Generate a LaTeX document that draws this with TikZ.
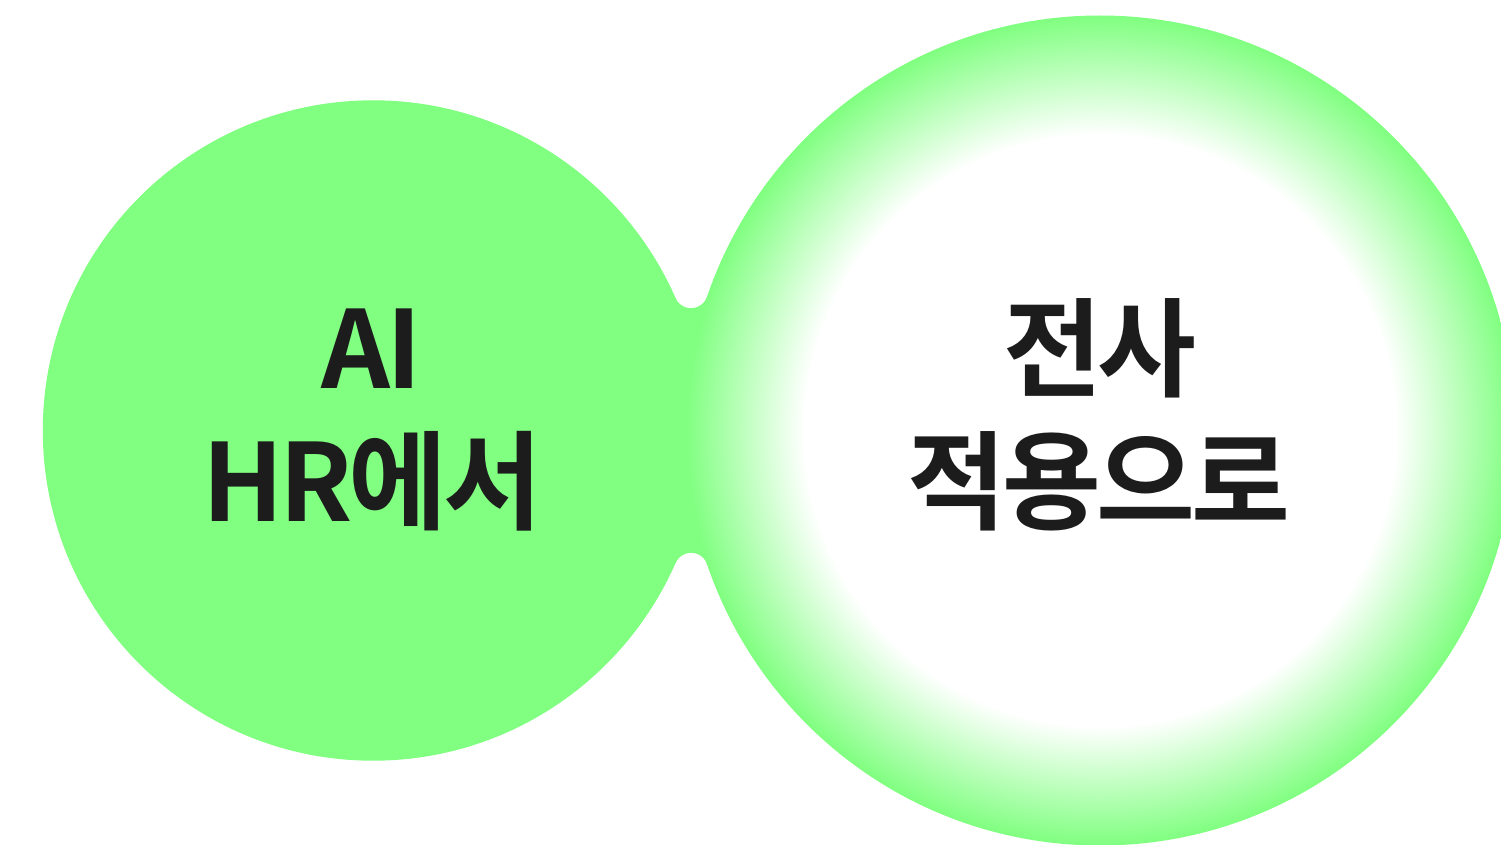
\documentclass[tikz,border=0pt]{standalone}
\usepackage{fontspec}
\newfontfamily\kr{Noto Sans CJK KR}[UprightFont=* Bold, LetterSpace=-4]
\definecolor{neon}{RGB}{128,255,128}
\definecolor{ink}{RGB}{28,28,28}
\pgfdeclareradialshading{glow}{\pgfpoint{0bp}{0bp}}{color(0bp)=(white); color(17.8bp)=(white); color(25bp)=(neon); color(50bp)=(neon)}
\tikzset{
  label line/.style={anchor=base, text=ink, inner sep=0pt, font=\kr\fontsize{107.5}{107.5}\selectfont},
}
\begin{document}
\begin{tikzpicture}[x=1pt,y=1pt]
\useasboundingbox (0,0) rectangle (1501,-845);
\clip (0,0) rectangle (1501,-845);
% neck between the circles
\fill[neon] (675.4,-298.0) arc[start angle=203.6, end angle=341.2, radius=17]
  -- (707.2,-564.3) arc[start angle=18.8, end angle=156.4, radius=17] -- cycle;
% left circle
\fill[neon] (373,-430.5) circle[radius=330.2];
% right circle with glow
\shade[shading=glow] (1100,-430.5) circle[radius=415];
% texts
\node[label line] (l1) at (372,-388) {AI};
\node[label line] (l2) at (372,-521) {HR에서};
\node[label line] (r1) at (1100,-388) {전사};
\node[label line] (r2) at (1099,-521) {적용으로};
\end{tikzpicture}
\end{document}
